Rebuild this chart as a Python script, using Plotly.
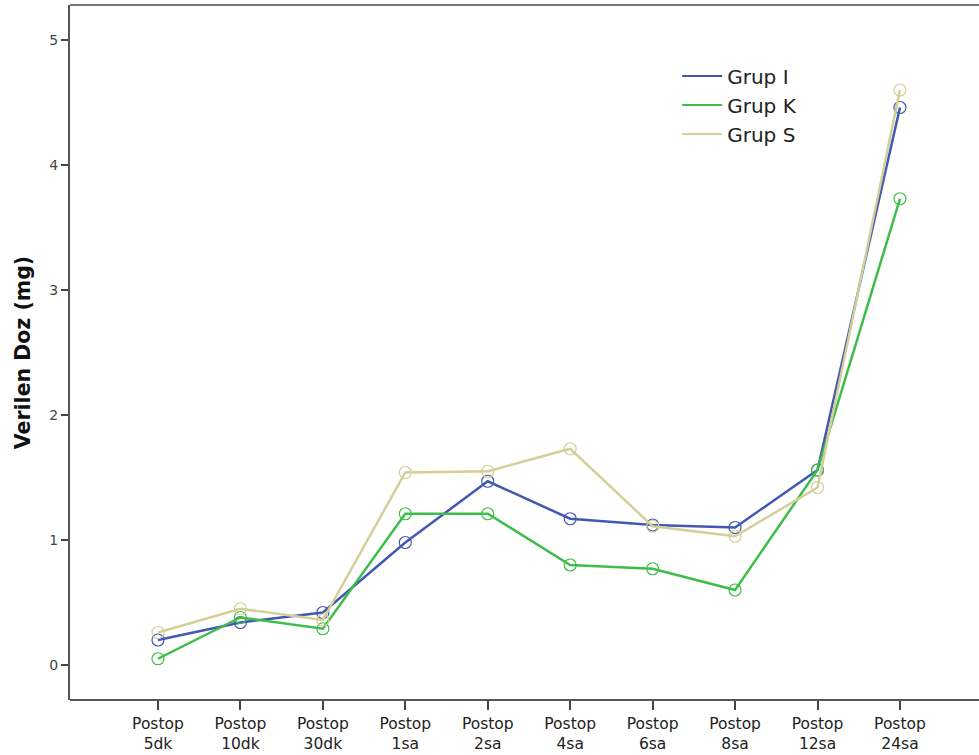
import plotly.graph_objects as go

# Time points after surgery
categories = ["Postop<br>5dk", "Postop<br>10dk", "Postop<br>30dk", "Postop<br>1sa",
              "Postop<br>2sa", "Postop<br>4sa", "Postop<br>6sa", "Postop<br>8sa",
              "Postop<br>12sa", "Postop<br>24sa"]

# Mean administered dose (mg) per group
grup_i = [0.20, 0.34, 0.42, 0.98, 1.47, 1.17, 1.12, 1.10, 1.56, 4.46]
grup_k = [0.05, 0.38, 0.29, 1.21, 1.21, 0.80, 0.77, 0.60, 1.56, 3.73]
grup_s = [0.26, 0.45, 0.36, 1.54, 1.55, 1.73, 1.11, 1.03, 1.42, 4.60]

series = [("Grup I", grup_i, "#4358b2"),
          ("Grup K", grup_k, "#3dbd4a"),
          ("Grup S", grup_s, "#d4cf98")]

font = "DejaVu Sans, Liberation Sans, sans-serif"
fig = go.Figure()
xs = list(range(len(categories)))

for name, vals, color in series:
    fig.add_trace(go.Scatter(
        x=xs, y=vals, mode="lines+markers", name=name, showlegend=False,
        line=dict(color=color, width=2.5),
        marker=dict(symbol="circle-open", size=12, color=color, line=dict(width=1.2)),
    ))

# legend entries show the line only
for i, (name, vals, color) in enumerate(series):
    fig.add_trace(go.Scatter(
        x=[None], y=[None], mode="lines", name=name, legendgroup=f"g{i}",
        line=dict(color=color, width=2),
    ))

# frame lines running on past the right edge of the plot area
right_end = 1 + 20 / 889
fig.add_shape(type="line", xref="paper", yref="paper", x0=0, x1=right_end, y0=1, y1=1,
              line=dict(color="#777", width=2))
fig.add_shape(type="line", xref="paper", yref="paper", x0=0, x1=right_end, y0=0, y1=0,
              line=dict(color="#555", width=2))

fig.update_layout(
    width=979, height=755,
    margin=dict(l=70, r=20, t=5, b=55),
    plot_bgcolor="white", paper_bgcolor="white",
    font=dict(family=font, color="#222"),
    showlegend=True,
    legend=dict(x=0.683, y=0.926, xanchor="left", yanchor="top",
                bgcolor="rgba(0,0,0,0)", font=dict(size=20, color="#222", family=font),
                traceorder="grouped", tracegroupgap=0, itemwidth=40),
    xaxis=dict(
        range=[-1.067, 9.716], tickmode="array", tickvals=xs, ticktext=categories,
        showgrid=False, zeroline=False, showline=False, automargin=False,
        ticks="outside", ticklen=9, tickcolor="#444", tickwidth=1.5,
        tickfont=dict(size=15.5, color="#222", family=font),
    ),
    yaxis=dict(
        range=[-0.28, 5.28], tickvals=[0, 1, 2, 3, 4, 5],
        showgrid=False, zeroline=False, showline=True, automargin=False,
        linecolor="#555", linewidth=2, ticks="outside", ticklen=7,
        tickcolor="#444", tickwidth=1.5,
        tickfont=dict(size=14, color="#444", family=font),
        title=dict(text="<b>Verilen Doz (mg)</b>", font=dict(size=20.5, color="#111", family=font),
                   standoff=13),
    ),
)

fig.write_html("out.html")
